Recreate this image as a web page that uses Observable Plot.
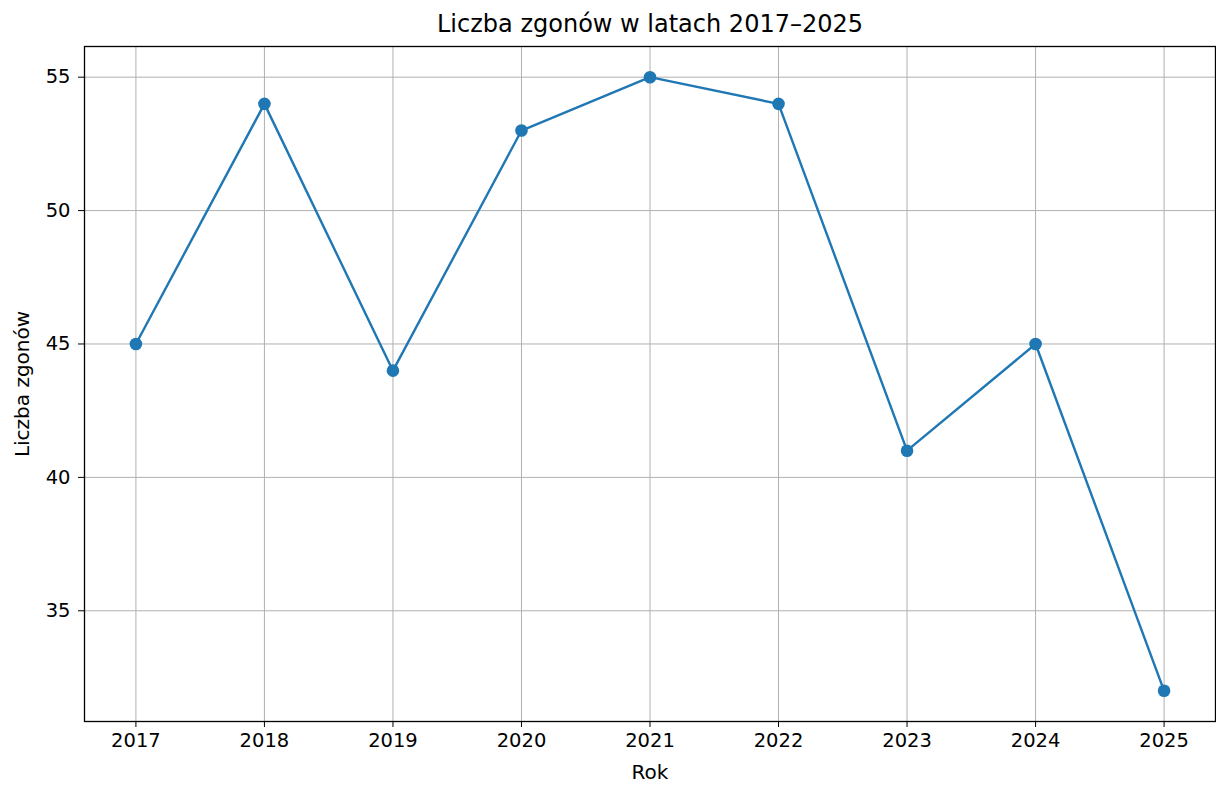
<!DOCTYPE html>
<html>
<head>
<meta charset="utf-8">
<script src="https://cdn.jsdelivr.net/npm/d3@7"></script>
<script src="https://cdn.jsdelivr.net/npm/@observablehq/plot@0.6"></script>
<style>
  html, body { margin: 0; padding: 0; background: #fff; }
</style>
</head>
<body>
<div id="chart"></div>
<script>
const years = [2017, 2018, 2019, 2020, 2021, 2022, 2023, 2024, 2025];
const deaths = [45, 54, 44, 53, 55, 54, 41, 45, 32];
const yTicks = [35, 40, 45, 50, 55];
const titleText = "Liczba zgonów w latach 2017–2025";
const xLabel = "Rok";
const yLabel = "Liczba zgonów";

const data = years.map((y, i) => ({year: y, value: deaths[i]}));
const font = "DejaVu Sans, sans-serif";

const chart = Plot.plot({
  width: 1216,
  height: 785,
  marginLeft: 84,
  marginRight: 1,
  marginTop: 46,
  marginBottom: 64,
  style: {fontFamily: font, fontSize: "19px", color: "#000", background: "#fff"},
  x: {domain: [2016.6, 2025.4]},
  y: {domain: [30.85, 56.15]},
  marks: [
    Plot.gridX(years, {stroke: "#b0b0b0", strokeOpacity: 1, strokeWidth: 1}),
    Plot.gridY(yTicks, {stroke: "#b0b0b0", strokeOpacity: 1, strokeWidth: 1}),
    Plot.axisX(years, {tickSize: 6, tickPadding: 6, tickFormat: d => String(d), label: null, fontSize: 19.5, stroke: "#000"}),
    Plot.axisY(yTicks, {tickSize: 6, tickPadding: 8, label: null, fontSize: 19.5, stroke: "#000"}),
    Plot.frame({stroke: "#000", strokeWidth: 1.3}),
    Plot.line(data, {x: "year", y: "value", stroke: "#1f77b4", strokeWidth: 2.4}),
    Plot.dot(data, {x: "year", y: "value", fill: "#1f77b4", r: 6.3, stroke: "none"}),
    Plot.text([titleText], {frameAnchor: "top", dy: -22, fontSize: 24, fill: "#000", lineAnchor: "middle", textAnchor: "middle"}),
    Plot.text([xLabel], {frameAnchor: "bottom", dy: 51, fontSize: 20, fill: "#000", lineAnchor: "middle", textAnchor: "middle"}),
    Plot.text([yLabel], {frameAnchor: "left", dx: -62, rotate: -90, fontSize: 20, fill: "#000", lineAnchor: "middle", textAnchor: "middle"})
  ]
});
document.getElementById("chart").appendChild(chart);
</script>
</body>
</html>
